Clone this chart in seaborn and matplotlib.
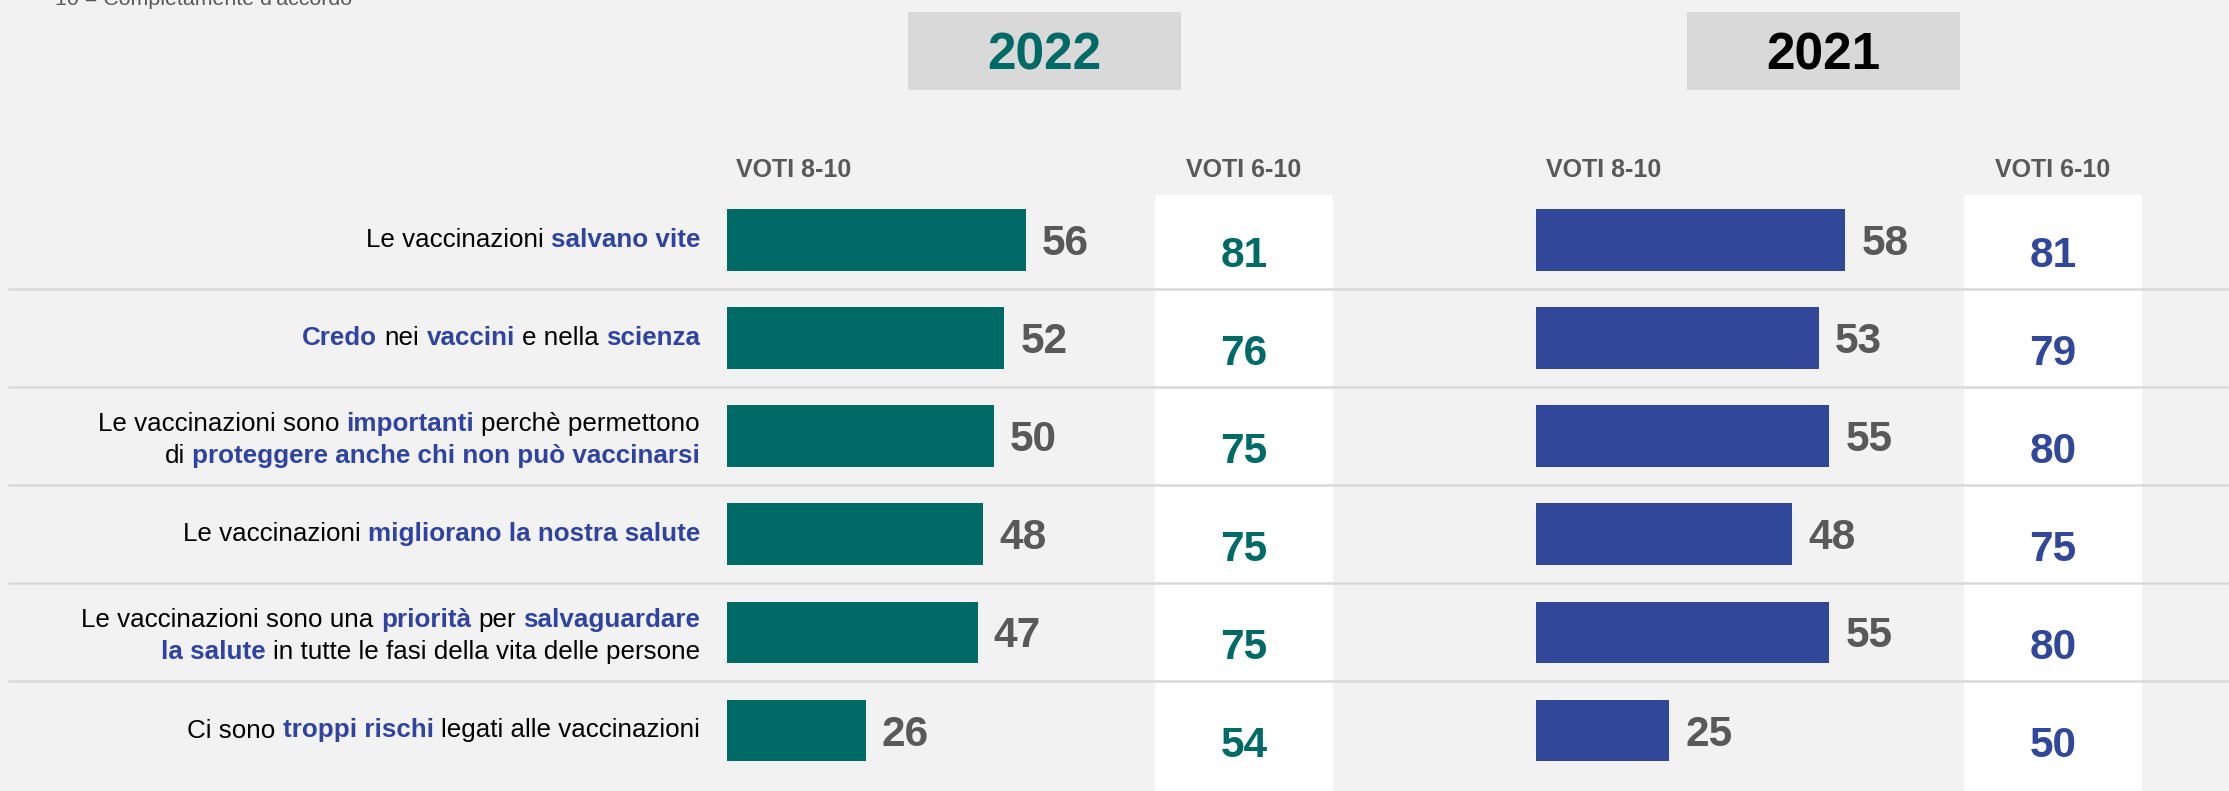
import pandas as pd
import seaborn as sns
import matplotlib.pyplot as plt
from matplotlib.patches import Rectangle
from matplotlib.lines import Line2D
from matplotlib.transforms import blended_transform_factory

# ---- data ----
statements = [
    "Le vaccinazioni **salvano vite**",
    "**Credo** nei **vaccini** e nella **scienza**",
    "Le vaccinazioni sono **importanti** perchè permettono\ndi **proteggere anche chi non può vaccinarsi**",
    "Le vaccinazioni **migliorano la nostra salute**",
    "Le vaccinazioni sono una **priorità** per **salvaguardare\nla salute** in tutte le fasi della vita delle persone",
    "Ci sono **troppi rischi** legati alle vaccinazioni",
]
voti_8_10_2022 = [56, 52, 50, 48, 47, 26]
voti_6_10_2022 = [81, 76, 75, 75, 75, 54]
voti_8_10_2021 = [58, 53, 55, 48, 55, 25]
voti_6_10_2021 = [81, 79, 80, 75, 80, 50]
years = ["2022", "2021"]
col_headers = ["VOTI 8-10", "VOTI 6-10"]
note = "10 = Completamente d'accordo"

# ---- style ----
W, H = 2229, 791
BG = "#F2F2F2"
TEAL = "#006B66"
BLUE = "#30479A"
HL_BLUE = "#2E44A0"
GREY = "#595959"
LINE = "#D9D9D9"
SANS = ["Liberation Sans", "DejaVu Sans"]
NARROW = ["Liberation Sans Narrow", "Liberation Sans", "DejaVu Sans"]
PX_PER_UNIT = 5.336
ROW_PX = 98.06

plt.rcParams["font.family"] = SANS

fig = plt.figure(figsize=(W / 100, H / 100), dpi=100, facecolor=BG)
renderer = fig.canvas.get_renderer()

panels = [
    dict(year=years[0], v810=voti_8_10_2022, v610=voti_6_10_2022, color=TEAL,
         year_color=TEAL, bar_x=727, col=(1155, 1333), box=(908, 1181), voti_x=736),
    dict(year=years[1], v810=voti_8_10_2021, v610=voti_6_10_2021, color=BLUE,
         year_color="black", bar_x=1536, col=(1964, 2142), box=(1687, 1960), voti_x=1546),
]

labels_plain = [s.replace("**", "").replace("\n", " ") for s in statements]
ax_w = 440
top_px = 240.2 - ROW_PX / 2
axes = []
for p in panels:
    ax = fig.add_axes([p["bar_x"] / W, 1 - (top_px + 6 * ROW_PX) / H, ax_w / W, 6 * ROW_PX / H])
    ax.patch.set_alpha(0)
    df = pd.DataFrame({"item": labels_plain, "value": p["v810"]})
    sns.barplot(data=df, x="value", y="item", order=labels_plain, color=p["color"],
                saturation=1, width=0.63, linewidth=0, orient="h", ax=ax)
    ax.set_xlim(0, ax_w / PX_PER_UNIT)
    ax.set_ylim(5.5, -0.5)
    ax.axis("off")
    axes.append(ax)

    # value labels next to bars
    for i, v in enumerate(p["v810"]):
        ax.text(v + 3.0, i + 15 / ROW_PX, str(v), ha="left", va="baseline",
                fontsize=30.5, fontweight="bold", color=GREY)

    # white column with 6-10 values
    c0, c1 = p["col"]
    fig.add_artist(Rectangle((c0 / W, 0), (c1 - c0) / W, (H - 195) / H,
                             transform=fig.transFigure, facecolor="white",
                             edgecolor="none", zorder=-1))
    tr = blended_transform_factory(fig.transFigure, ax.transData)
    for i, v in enumerate(p["v610"]):
        ax.text((c0 + c1) / 2 / W, i + 27 / ROW_PX, str(v), transform=tr,
                ha="center", va="baseline", fontsize=30.5, fontweight="bold",
                color=p["color"], clip_on=False)

    # year header box
    b0, b1 = p["box"]
    fig.add_artist(Rectangle((b0 / W, 1 - 90 / H), (b1 - b0) / W, 78 / H,
                             transform=fig.transFigure, facecolor="#D9D9D9",
                             edgecolor="none", zorder=-1))
    fig.text((b0 + b1) / 2 / W, 1 - 70 / H, p["year"], ha="center", va="baseline",
             fontsize=37, fontweight="bold", color=p["year_color"], family=NARROW)

    # column headers
    fig.text(p["voti_x"] / W, 1 - 177 / H, col_headers[0], ha="left", va="baseline",
             fontsize=18, fontweight="bold", color=GREY)
    fig.text((c0 + c1) / 2 / W, 1 - 177 / H, col_headers[1], ha="center", va="baseline",
             fontsize=18, fontweight="bold", color=GREY)

ax0 = axes[0]
tr0 = blended_transform_factory(fig.transFigure, ax0.transData)

# separators between rows
for i in range(len(statements) - 1):
    fig.add_artist(Line2D([9 / W, 1], [i + 0.5, i + 0.5], transform=tr0,
                          color=LINE, lw=1.8, zorder=2))


def parse(label):
    lines, cur = [], []
    for k, part in enumerate(label.split("**")):
        bold = k % 2 == 1
        for j, s in enumerate(part.split("\n")):
            if j > 0:
                lines.append(cur)
                cur = []
            s = s.strip()
            if s:
                cur.append((s, bold))
    lines.append(cur)
    return lines


LABEL_FS = 18.7
space_px = 0.278 * LABEL_FS * 100 / 72
for i, s in enumerate(statements):
    lines = parse(s)
    n = len(lines)
    for k, segs in enumerate(lines):
        off = 7 + 32.5 * (k - (n - 1) / 2) + 3.5 * (n - 1)
        x = 700
        for text, bold in reversed(segs):
            t = fig.text(x / W, i + off / ROW_PX, text, transform=tr0, ha="right",
                         va="baseline", fontsize=LABEL_FS,
                         fontweight="bold" if bold else "normal",
                         color=HL_BLUE if bold else "black")
            x -= t.get_window_extent(renderer).width + space_px

# note at the top (partly cut off, as in the original slide)
fig.text(55 / W, 1 - 5 / H, note, ha="left", va="baseline", fontsize=15.4, color=GREY)

fig.savefig("out.png", dpi=100, facecolor=BG)
